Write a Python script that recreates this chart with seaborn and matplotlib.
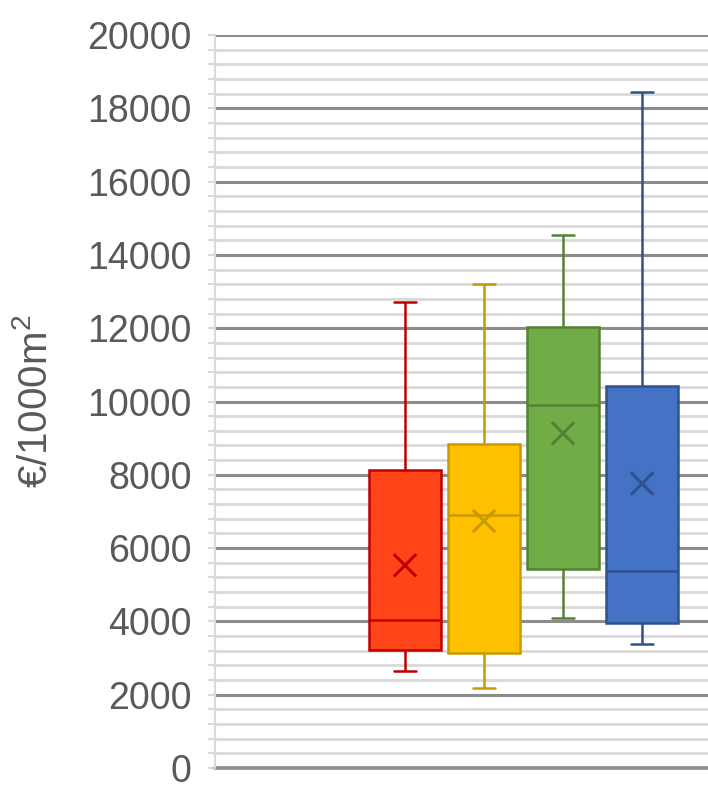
import numpy as np
import pandas as pd
import matplotlib
matplotlib.use("Agg")
import matplotlib.pyplot as plt
import seaborn as sns
from matplotlib.ticker import MultipleLocator

# ---- data ----
series = ["A", "B", "C", "D"]
whisker_low = [2650, 2170, 4080, 3370]
q1 = [3230, 3140, 5440, 3960]
median = [4050, 6900, 9900, 5380]
q3 = [8120, 8840, 12040, 10420]
whisker_high = [12720, 13200, 14550, 18450]
means = [5530, 6740, 9130, 7760]

fill_colors = ["#FF4517", "#FFC000", "#70AD47", "#4472C4"]
edge_colors = ["#C00000", "#C99A00", "#548235", "#2F528F"]

y_ticks = [0, 2000, 4000, 6000, 8000, 10000, 12000, 14000, 16000, 18000, 20000]
y_label = "€/1000m$^2$"

# five-number summaries as long-form table
rows = []
for s, a, b, c, d, e in zip(series, whisker_low, q1, median, q3, whisker_high):
    for v in (a, b, c, d, e):
        rows.append({"series": s, "value": v})
df = pd.DataFrame(rows)

sns.set_theme(style="white")
plt.rcParams["font.family"] = ["Liberation Sans", "DejaVu Sans"]
plt.rcParams["mathtext.fontset"] = "custom"
plt.rcParams["mathtext.rm"] = "Liberation Sans"
plt.rcParams["mathtext.it"] = "Liberation Sans"
plt.rcParams["mathtext.default"] = "regular"

fig = plt.figure(figsize=(7.08, 7.92), dpi=100)
ax = fig.add_axes([215 / 708, 24 / 792, 1 - 215 / 708, (768 - 35) / 792])

for i, s in enumerate(series):
    sns.boxplot(
        data=df[df["series"] == s], x="series", y="value", order=series,
        color=fill_colors[i], linecolor=edge_colors[i], linewidth=1.8,
        width=0.9, whis=(0, 100), showfliers=False, saturation=1,
        capwidths=0.27, ax=ax,
    )

sns.scatterplot(
    x=np.arange(len(series)), y=means, hue=series, palette=edge_colors,
    marker="x", s=260, linewidth=2.2, legend=False, zorder=5, ax=ax,
)

ax.set_xlim(-2.405, 3.835)
ax.set_ylim(0, 20000)
ax.set_yticks(y_ticks)
ax.set_yticklabels([str(t) for t in y_ticks])
ax.yaxis.set_minor_locator(MultipleLocator(400))
ax.grid(which="minor", axis="y", color="#d9d9d9", linewidth=2.0, zorder=0)
ax.grid(which="major", axis="y", color="#8c8c8c", linewidth=2.2, zorder=0)
ax.axhline(0, color="#8c8c8c", linewidth=2.6, clip_on=False, zorder=1)
ax.set_axisbelow(True)
ax.set_xticks([])
ax.set_xlabel("")
ax.set_ylabel(y_label, fontsize=29, color="#595959", labelpad=12)
ax.yaxis.set_label_coords(-0.325, 0.50)
ax.tick_params(axis="y", which="major", labelsize=27, labelcolor="#595959",
               length=5, color="#d9d9d9", width=1.5, left=True, pad=12)
ax.tick_params(axis="y", which="minor", length=5, color="#d9d9d9", width=1.5, left=True)

for side in ("top", "right", "bottom"):
    ax.spines[side].set_visible(False)
ax.spines["left"].set_color("#d9d9d9")
ax.spines["left"].set_linewidth(1.5)

fig.savefig("out.png", dpi=100)
